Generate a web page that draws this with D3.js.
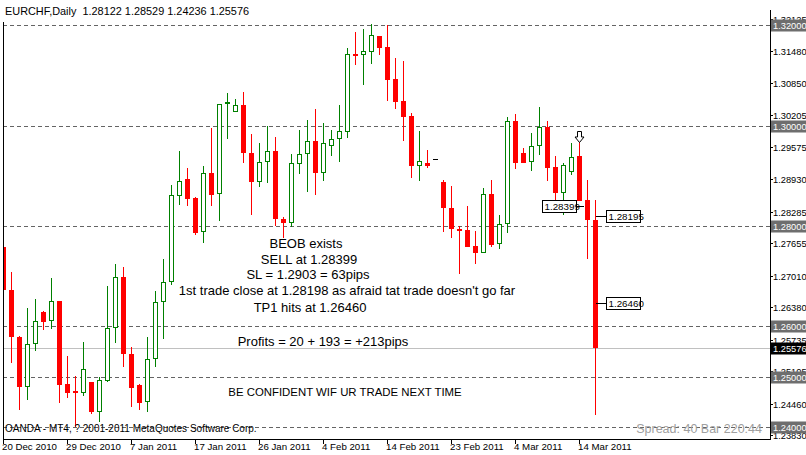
<!DOCTYPE html>
<html>
<head>
<meta charset="utf-8">
<script src="https://cdn.jsdelivr.net/npm/d3@7/dist/d3.min.js"></script>
<style>
body { margin: 0; background: #fff; }
svg { display: block; }
text { font-family: "Liberation Sans", Arial, sans-serif; }
</style>
</head>
<body>
<svg id="chart" width="806" height="455"></svg>
<script>
/*
** Data
*/
var opens = [
  1.27590, 1.26730, 1.25785, 1.24801, 1.25646, 1.26289, 1.26104, 1.26508, 1.24855, 1.24715,
  1.24669, 1.24895, 1.24303, 1.24914, 1.25964, 1.26986, 1.25452, 1.24829, 1.24490, 1.25347,
  1.26482, 1.26881, 1.28606, 1.28938, 1.28566, 1.27877, 1.29052, 1.28634, 1.30426, 1.30279,
  1.30412, 1.29456, 1.28873, 1.29271, 1.29496, 1.28136, 1.28068, 1.29231, 1.29430, 1.29695,
  1.29052, 1.29596, 1.29729, 1.29880, 1.31434, 1.31402, 1.31474, 1.31787, 1.31568, 1.30930,
  1.30492, 1.30193, 1.29203, 1.29257, 1.29331, 1.28873, 1.28355, 1.27942, 1.27922, 1.27604,
  1.27470, 1.28634, 1.27638, 1.28036, 1.30094, 1.29462, 1.29271, 1.29596, 1.29980, 1.29171,
  1.28653, 1.29084, 1.29396, 1.28520, 1.28122
];
var highs = [
  1.27763, 1.27092, 1.25811, 1.26375, 1.26548, 1.26300, 1.26960, 1.26510, 1.25412, 1.25014,
  1.25691, 1.24900, 1.25000, 1.26807, 1.27245, 1.27191, 1.25586, 1.24855, 1.25785, 1.26707,
  1.27345, 1.28819, 1.29496, 1.29157, 1.28570, 1.29197, 1.29948, 1.30440, 1.30645, 1.30526,
  1.30665, 1.29835, 1.29661, 1.29994, 1.29769, 1.28187, 1.29436, 1.29914, 1.30114, 1.30327,
  1.30048, 1.29914, 1.30412, 1.31542, 1.31861, 1.31926, 1.32026, 1.31790, 1.32006, 1.31355,
  1.31295, 1.30247, 1.29894, 1.29516, 1.29331, 1.28918, 1.28799, 1.28002, 1.28400, 1.27902,
  1.28753, 1.28918, 1.28221, 1.30179, 1.30227, 1.29550, 1.29849, 1.30378, 1.30100, 1.29396,
  1.29263, 1.29661, 1.29681, 1.28918, 1.28529
];
var lows = [
  1.26329, 1.25279, 1.24337, 1.24536, 1.25518, 1.25930, 1.25944, 1.24470, 1.24570, 1.24004,
  1.24622, 1.24257, 1.24104, 1.24900, 1.25665, 1.25199, 1.24403, 1.24337, 1.24303, 1.25199,
  1.25757, 1.26827, 1.28420, 1.28400, 1.27823, 1.27669, 1.28400, 1.28108, 1.29729, 1.30279,
  1.29263, 1.28221, 1.28773, 1.28865, 1.28008, 1.27757, 1.27988, 1.29038, 1.28685, 1.28620,
  1.28904, 1.29402, 1.29283, 1.29761, 1.31209, 1.30811, 1.31229, 1.31408, 1.30492, 1.30327,
  1.29701, 1.28964, 1.28904, 1.29163, 1.29331, 1.27888, 1.27757, 1.27040, 1.27590, 1.27239,
  1.27470, 1.27590, 1.27538, 1.27857, 1.29132, 1.29263, 1.29104, 1.29416, 1.28904, 1.28287,
  1.28221, 1.29018, 1.28500, 1.27339, 1.24236
];
var closes = [
  1.26727, 1.25785, 1.24801, 1.25646, 1.26110, 1.26096, 1.26508, 1.24841, 1.24681, 1.24675,
  1.25148, 1.24297, 1.24928, 1.25964, 1.26986, 1.25446, 1.24781, 1.24482, 1.25347, 1.26488,
  1.26881, 1.28620, 1.28898, 1.28546, 1.27857, 1.29052, 1.28626, 1.30432, 1.30472, 1.30406,
  1.29450, 1.28873, 1.29271, 1.29496, 1.28136, 1.28068, 1.29251, 1.29430, 1.29695, 1.29052,
  1.29649, 1.29729, 1.29894, 1.31428, 1.31394, 1.31482, 1.31801, 1.31554, 1.30910, 1.30478,
  1.30179, 1.29203, 1.29291, 1.29203, 1.29331, 1.28355, 1.27936, 1.27908, 1.27590, 1.27470,
  1.28634, 1.27624, 1.28036, 1.30094, 1.29251, 1.29263, 1.29596, 1.29980, 1.29163, 1.28653,
  1.29211, 1.29382, 1.28500, 1.28122, 1.25576
];

var dateTicks  = [0, 8, 16, 24, 32, 40, 48, 56, 64, 72];
var dateLabels = ["20 Dec 2010", "29 Dec 2010", "7 Jan 2011", "17 Jan 2011", "26 Jan 2011",
                  "4 Feb 2011", "14 Feb 2011", "23 Feb 2011", "4 Mar 2011", "14 Mar 2011"];

var priceTicks = [1.32125, 1.31480, 1.30850, 1.30205, 1.29575, 1.28930, 1.28285,
                  1.27655, 1.27010, 1.26380, 1.25735, 1.25105, 1.24460, 1.23830];
var levels = [1.32, 1.30, 1.28, 1.26, 1.25, 1.24];
var bid = 1.25576;

var priceTags = [
    { bar: 73, price: 1.28399, side: "left" },
    { bar: 74, price: 1.28195, side: "right" },
    { bar: 74, price: 1.26460, side: "right" }
];
var arrowBar = 72;

var header = "EURCHF,Daily  1.28122 1.28529 1.24236 1.25576";
var notes = [
    "BEOB exists",
    "SELL at 1.28399",
    "SL = 1.2903 = 63pips",
    "1st trade close at 1.28198 as afraid tat trade doesn't go far",
    "TP1 hits at 1.26460",
    "Profits = 20 + 193 = +213pips",
    "BE CONFIDENT WIF UR TRADE NEXT TIME"
];

/*
** Layout
*/
var plotLeft = 3, plotRight = 770, plotTop = 0, plotBottom = 439;
var up = "#008000", down = "#ff0000";

var svg = d3.select("#chart");

var x = d3.scaleLinear().domain([0, 74]).range([3, 595]);
var y = d3.scaleLinear().domain([1.24, 1.32]).range([426.8, 25.3]);

function px(i) { return Math.round(x(i)); }
function py(p) { return Math.round(y(p)); }

svg.append("defs").append("clipPath").attr("id", "plot")
  .append("rect")
    .attr("x", plotLeft + 0.5).attr("y", plotTop)
    .attr("width", plotRight - plotLeft).attr("height", plotBottom - plotTop);

var plot = svg.append("g").attr("clip-path", "url(#plot)");

// bid line
plot.append("line")
    .attr("x1", plotLeft).attr("x2", plotRight)
    .attr("y1", py(bid) + 0.5).attr("y2", py(bid) + 0.5)
    .attr("stroke", "#c0c0c0");

// horizontal level lines
plot.selectAll("line.level")
    .data(levels)
  .enter().append("line")
    .attr("class", "level")
    .attr("x1", plotLeft).attr("x2", plotRight)
    .attr("y1", function(d) { return py(d) + 0.5; })
    .attr("y2", function(d) { return py(d) + 0.5; })
    .attr("stroke", "#646464")
    .attr("stroke-dasharray", "4,3");

/*
** Candles
*/
var bars = d3.range(opens.length).map(function(i) {
    return { i: i, o: opens[i], h: highs[i], l: lows[i], c: closes[i] };
});

var candle = plot.selectAll("g.candle")
    .data(bars)
  .enter().append("g")
    .attr("class", "candle")
    .attr("shape-rendering", "crispEdges");

candle.each(function(d) {
    var g = d3.select(this)
      , cx = px(d.i)
      , col = d.c > d.o ? up : down
      , top = py(Math.max(d.o, d.c))
      , bot = py(Math.min(d.o, d.c))
    ;
    if (d.o === d.c && d.h === d.l) {
        g.append("rect")
            .attr("x", cx - 2).attr("y", top)
            .attr("width", 5).attr("height", 1)
            .attr("fill", "#000");
        return;
    }
    g.append("rect")
        .attr("x", cx).attr("y", py(d.h))
        .attr("width", 1).attr("height", Math.max(1, py(d.l) - py(d.h)))
        .attr("fill", col);
    if (d.c > d.o) {
        g.append("rect")
            .attr("x", cx - 1.5).attr("y", top + 0.5)
            .attr("width", 4).attr("height", Math.max(1, bot - top - 1))
            .attr("fill", "#fff")
            .attr("stroke", col);
    } else {
        g.append("rect")
            .attr("x", cx - 2).attr("y", top)
            .attr("width", 5).attr("height", Math.max(2, bot - top))
            .attr("fill", col);
    }
});

// hollow down arrow above the signal bar
var ax = px(arrowBar) + 0.5, ay = py(highs[arrowBar]) + 0.5;
plot.append("path")
    .attr("d", "M" + ax + "," + ay +
               " l-4.5,-5.5 h2.5 v-5.5 h4 v5.5 h2.5 z")
    .attr("fill", "#fff")
    .attr("stroke", "#000");

/*
** Price tags
*/
var tag = plot.selectAll("g.tag")
    .data(priceTags)
  .enter().append("g")
    .attr("class", "tag")
    .each(function(d) {
        var g = d3.select(this)
          , ty = py(d.price) + 0.5
          , bx = d.side === "left" ? px(d.bar) - 45 : px(d.bar) + 11
        ;
        g.append("line")
            .attr("x1", d.side === "left" ? bx + 35 : px(d.bar) + 1)
            .attr("x2", d.side === "left" ? px(d.bar) - 3 : bx)
            .attr("y1", ty).attr("y2", ty)
            .attr("stroke", "#000");
        g.append("rect")
            .attr("x", bx + 0.5).attr("y", ty - 6)
            .attr("width", 34).attr("height", 12)
            .attr("fill", "#fff").attr("stroke", "#000");
        g.append("text")
            .attr("x", bx + 2.5).attr("y", ty + 3.5)
            .attr("font-size", "9.8px")
            .text(d.price.toFixed(5));
    });

/*
** Annotation text
*/
var notePos  = [[306, 248], [309, 264], [308, 279], [347, 295], [310, 312], [323, 346], [345, 396]];
var noteSize = [13, 13, 13, 13, 13, 13, 11.4];
plot.selectAll("text.note")
    .data(notes)
  .enter().append("text")
    .attr("class", "note")
    .attr("x", function(d, i) { return notePos[i][0]; })
    .attr("y", function(d, i) { return notePos[i][1]; })
    .attr("text-anchor", "middle")
    .attr("font-size", function(d, i) { return noteSize[i] + "px"; })
    .attr("fill", "#000")
    .text(function(d) { return d; });

svg.append("text")
    .attr("x", 5).attr("y", 15)
    .attr("font-size", "10.9px")
    .attr("xml:space", "preserve")
    .style("white-space", "pre")
    .text(header);

svg.append("text")
    .attr("x", 5).attr("y", 432)
    .attr("font-size", "10px")
    .text("OANDA - MT4, ? 2001-2011 MetaQuotes Software Corp.");

svg.append("text")
    .attr("x", 762).attr("y", 433)
    .attr("text-anchor", "end")
    .attr("font-size", "12.5px")
    .attr("fill", "#a0a0a0")
    .text("Spread: 40 Bar 220:44");

/*
** Frame and axes
*/
var frame = svg.append("g").attr("shape-rendering", "crispEdges");
frame.append("line")
    .attr("x1", plotLeft + 0.5).attr("x2", plotLeft + 0.5)
    .attr("y1", 22).attr("y2", plotBottom + 0.5)
    .attr("stroke", "#000");
frame.append("line")
    .attr("x1", plotLeft).attr("x2", plotRight + 1)
    .attr("y1", plotBottom + 0.5).attr("y2", plotBottom + 0.5)
    .attr("stroke", "#000");
frame.append("line")
    .attr("x1", plotRight + 0.5).attr("x2", plotRight + 0.5)
    .attr("y1", 10).attr("y2", plotBottom + 1)
    .attr("stroke", "#000");

// date axis
var dateAxis = svg.append("g").selectAll("g")
    .data(dateTicks)
  .enter().append("g")
    .attr("transform", function(d) { return "translate(" + px(d) + ",0)"; });
dateAxis.append("line")
    .attr("x1", 0.5).attr("x2", 0.5)
    .attr("y1", plotBottom).attr("y2", plotBottom + 5)
    .attr("stroke", "#000");
dateAxis.append("text")
    .attr("x", -1).attr("y", 450)
    .attr("font-size", "9.7px")
    .text(function(d, i) { return dateLabels[i]; });

// price axis
var priceAxis = svg.append("g").selectAll("g")
    .data(priceTicks)
  .enter().append("g")
    .attr("transform", function(d) { return "translate(0," + (py(d) + 0.5) + ")"; });
priceAxis.append("line")
    .attr("x1", plotRight).attr("x2", plotRight + 3)
    .attr("stroke", "#000");
priceAxis.append("text")
    .attr("x", 773).attr("y", 3.5)
    .attr("font-size", "9.3px")
    .text(function(d) { return d.toFixed(5); });

var boxes = levels.map(function(v) { return { v: v, fill: "#6e6e6e" }; })
    .concat([{ v: bid, fill: "#000" }]);
var box = svg.append("g").selectAll("g")
    .data(boxes)
  .enter().append("g")
    .attr("transform", function(d) { return "translate(0," + (py(d.v) + 0.5) + ")"; });
box.append("rect")
    .attr("x", 771).attr("y", -6)
    .attr("width", 35).attr("height", 12)
    .attr("fill", function(d) { return d.fill; });
box.append("text")
    .attr("x", 773).attr("y", 3.5)
    .attr("font-size", "9.3px")
    .attr("fill", "#fff")
    .text(function(d) { return d.v.toFixed(5); });
</script>
</body>
</html>
